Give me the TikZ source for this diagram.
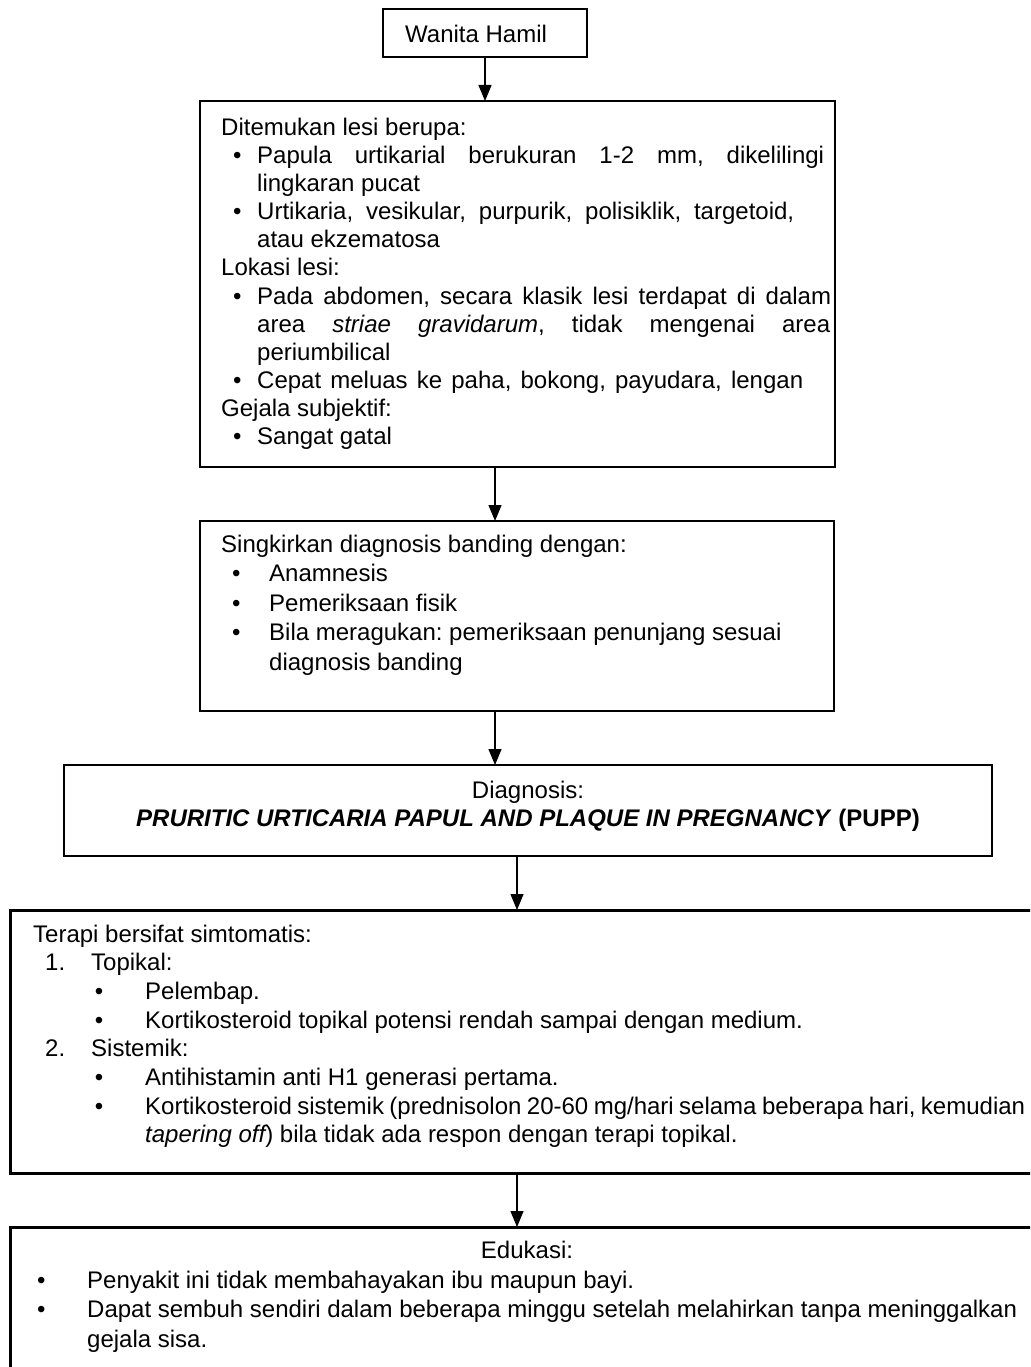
\documentclass[tikz,border=0pt]{standalone}
\usepackage{fontspec}
\setmainfont{Liberation Sans}
\usetikzlibrary{arrows.meta}
\frenchspacing

% line helpers: offsets are measured from the left of each text block
\newcommand\PL[2]{\hbox{\kern#1pt #2}}
\newcommand\BL[3]{\hbox{\kern#1pt\makebox[0pt]{\textbullet}\kern\dimexpr#2pt-#1pt\relax #3}}
\newcommand\BJL[4]{\hbox{\kern#1pt\makebox[0pt]{\textbullet}\kern\dimexpr#2pt-#1pt\relax \makebox[#3pt][s]{#4}}}
\newcommand\JL[3]{\hbox{\kern#1pt\makebox[#2pt][s]{#3}}}
\newcommand\NL[4]{\hbox{\kern#1pt\makebox[0pt][l]{#2}\kern\dimexpr#3pt-#1pt\relax #4}}

\tikzset{
  flowbox/.style={draw=black, line width=1.6pt, rectangle, inner sep=0pt, outer sep=0pt, anchor=north west},
  arr/.style={line width=1.3pt, -{Triangle[length=16pt,width=13pt]}},
  txt/.style={anchor=base west, inner sep=0pt, font=\fontsize{24}{28}\selectfont},
  ctxt/.style={anchor=base, inner sep=0pt, font=\fontsize{24}{28}\selectfont},
}

\begin{document}
\begin{tikzpicture}[x=1pt, y=-1pt]
\useasboundingbox (0,0) rectangle (1030,1367);
\clip (0,0) rectangle (1030,1367);

% boxes
\node[flowbox, minimum width=204pt, minimum height=48pt] (box1) at (383,9) {};
\node[flowbox, minimum width=635pt, minimum height=366pt] (box2) at (200,101) {};
\node[flowbox, minimum width=634pt, minimum height=190pt] (box3) at (200,521) {};
\node[flowbox, line width=2pt, minimum width=928pt, minimum height=91pt] (box4) at (64,765) {};
\node[flowbox, line width=3pt, minimum width=1035pt, minimum height=263pt] (box5) at (10,910) {};
\node[flowbox, line width=3pt, minimum width=1035pt, minimum height=170pt] (box6) at (10,1227) {};

% texts
\node[txt] (t1) at (405,43) {Wanita Hamil};

\node[txt] (t2) at (221,135.5) {\vtop{\baselineskip=28.1pt
  \PL{0}{Ditemukan lesi berupa:}
  \BJL{16}{36}{567}{Papula urtikarial berukuran 1-2 mm, dikelilingi}
  \PL{36}{lingkaran pucat}
  \BJL{16}{36}{537}{Urtikaria, vesikular, purpurik, polisiklik, targetoid,}
  \PL{36}{atau ekzematosa}
  \PL{0}{Lokasi lesi:}
  \BJL{16}{36}{574}{Pada abdomen, secara klasik lesi terdapat di dalam}
  \JL{36}{573}{area {\itshape striae gravidarum}, tidak mengenai area}
  \PL{36}{periumbilical}
  \BJL{16}{36}{546}{Cepat meluas ke paha, bokong, payudara, lengan}
  \PL{0}{Gejala subjektif:}
  \BL{16}{36}{Sangat gatal}}};

\node[txt] (t3) at (221,552) {\vtop{\baselineskip=29.6pt
  \PL{0}{Singkirkan diagnosis banding dengan:}
  \BL{15}{48}{Anamnesis}
  \BL{15}{48}{Pemeriksaan fisik}
  \BL{15}{48}{Bila meragukan: pemeriksaan penunjang sesuai}
  \PL{48}{diagnosis banding}}};

\node[ctxt] (t4a) at (528,798) {Diagnosis:};
\node[ctxt] (t4b) at (528,826) {\textbf{\itshape PRURITIC URTICARIA PAPUL AND PLAQUE IN PREGNANCY} \textbf{(PUPP)}};

\node[txt] (t5) at (33,942) {\vtop{\baselineskip=28.7pt
  \PL{0}{Terapi bersifat simtomatis:}
  \NL{12}{1.}{58}{Topikal:}
  \BL{66}{112}{Pelembap.}
  \BL{66}{112}{Kortikosteroid topikal potensi rendah sampai dengan medium.}
  \NL{12}{2.}{58}{Sistemik:}
  \BL{66}{112}{Antihistamin anti H1 generasi pertama.}
  \BJL{66}{112}{880}{Kortikosteroid sistemik (prednisolon 20-60 mg/hari selama beberapa hari, kemudian}
  \PL{112}{{\itshape tapering off}) bila tidak ada respon dengan terapi topikal.}}};

\node[ctxt] (t6a) at (527,1258) {Edukasi:};
\node[txt] (t6) at (41,1288) {\vtop{\baselineskip=29.7pt
  \BL{0}{46}{Penyakit ini tidak membahayakan ibu maupun bayi.}
  \BL{0}{46}{Dapat sembuh sendiri dalam beberapa minggu setelah melahirkan tanpa meninggalkan}
  \PL{46}{gejala sisa.}}};

% connectors
\coordinate (c2) at (495,0);
\coordinate (c4) at (517,0);
\draw[arr] (box1.south) -- (box1.south |- box2.north);
\draw[arr] (box2.south -| c2) -- (box3.north -| c2);
\draw[arr] (box3.south -| c2) -- (box4.north -| c2);
\draw[arr] (box4.south -| c4) -- (box5.north -| c4);
\draw[arr] (box5.south -| c4) -- (box6.north -| c4);
\end{tikzpicture}
\end{document}
